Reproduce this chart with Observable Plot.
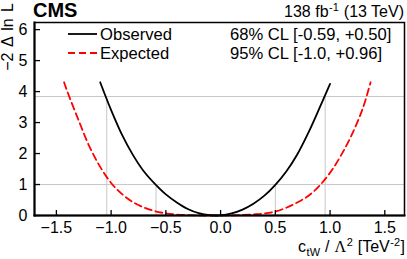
<!DOCTYPE html>
<html>
<head>
<meta charset="utf-8">
<script src="https://cdn.jsdelivr.net/npm/d3@7"></script>
<script src="https://cdn.jsdelivr.net/npm/@observablehq/plot@0.6"></script>
<style>
  html, body { margin: 0; padding: 0; background: #fff; }
  svg { display: block; }
</style>
</head>
<body>
<div id="chart"></div>
<script>
// Observed -2ΔlnL scan
const obsX = [-1.10, -1.0, -0.9, -0.8, -0.7, -0.6, -0.5, -0.4, -0.3, -0.2, -0.1, 0.0, 0.1, 0.2, 0.3, 0.4, 0.5, 0.6, 0.7, 0.8, 0.9, 1.0];
const obsY = [4.30, 3.40, 2.60, 1.95, 1.42, 1.02, 0.68, 0.42, 0.21, 0.075, 0.01, 0.005, 0.065, 0.19, 0.38, 0.64, 0.99, 1.42, 1.97, 2.66, 3.44, 4.25];
// Expected -2ΔlnL scan
const expX = [-1.43, -1.4, -1.3, -1.2, -1.1, -1.0, -0.9, -0.8, -0.7, -0.6, -0.5, -0.4, -0.3, -0.2, -0.1, 0.0, 0.1, 0.2, 0.3, 0.4, 0.5, 0.6, 0.7, 0.8, 0.9, 1.0, 1.1, 1.2, 1.3, 1.37];
const expY = [4.30, 4.00, 3.10, 2.24, 1.57, 1.05, 0.69, 0.43, 0.26, 0.14, 0.07, 0.03, 0.012, 0.003, 0.0, 0.0, 0.004, 0.015, 0.035, 0.065, 0.13, 0.25, 0.42, 0.63, 0.95, 1.38, 1.94, 2.62, 3.47, 4.30];
// CL levels and observed interval edges
const clLevels = [1, 3.84];
const clEdgesX = [-1.04, -0.59, 0.50, 0.955];
const clEdgesLevel = [3.84, 1, 1, 3.84];
// ticks
const xTicks = [-1.5, -1.0, -0.5, 0.0, 0.5, 1.0, 1.5];
const yTicks = [0, 1, 2, 3, 4, 5, 6];
// texts
const seriesNames = ["Observed", "Expected"];
const clTexts = ["68% CL [-0.59, +0.50]", "95% CL [-1.0, +0.96]"];

const observed = obsX.map((x, i) => ({x, y: obsY[i]}));
const expected = expX.map((x, i) => ({x, y: expY[i]}));
const edges = clEdgesX.map((x, i) => ({x, level: clEdgesLevel[i]}));

const W = 407, H = 259;
const mL = 34, mR = 3, mT = 22, mB = 44;
const innerW = W - mL - mR, innerH = H - mT - mB;
const FONT = "'Liberation Sans', Arial, Helvetica, sans-serif";
const SERIF = "'Liberation Serif', 'Times New Roman', serif";

const plot = Plot.plot({
  width: W,
  height: H,
  marginLeft: mL,
  marginRight: mR,
  marginTop: mT,
  marginBottom: mB,
  style: {fontFamily: FONT, fontSize: "16px", color: "#000", background: "#fff"},
  x: {domain: [-1.7, 1.68], label: null},
  y: {domain: [0, 6.23], label: null},
  marks: [
    Plot.ruleY(clLevels, {stroke: "#c8c8c8", strokeWidth: 1}),
    Plot.ruleX(edges, {x: "x", y1: 0, y2: "level", stroke: "#c8c8c8", strokeWidth: 1}),
    Plot.line(expected, {x: "x", y: "y", stroke: "#ff0000", strokeWidth: 1.8, strokeDasharray: "7,4", curve: "catmull-rom"}),
    Plot.line(observed, {x: "x", y: "y", stroke: "#000", strokeWidth: 1.8, curve: "catmull-rom"}),
    Plot.tickX(xTicks, {x: d => d, insetTop: innerH - 5, stroke: "#000", strokeWidth: 1.3}),
    Plot.tickY(yTicks, {y: d => d, insetRight: innerW - 6, stroke: "#000", strokeWidth: 1.3}),
    Plot.axisX(xTicks, {tickSize: 0, tickPadding: 6, tickFormat: d3.format(".1f"), fontSize: 16, label: null}),
    Plot.axisY(yTicks, {tickSize: 0, tickPadding: 7, tickFormat: d3.format("d"), fontSize: 16, label: null}),
    Plot.frame({stroke: "#000", strokeWidth: 1.5}),
    Plot.frame({anchor: "left", stroke: "#000", strokeWidth: 2}),
    Plot.frame({anchor: "bottom", stroke: "#000", strokeWidth: 2})
  ]
});

document.getElementById("chart").appendChild(plot);

const svg = d3.select(plot);
const g = svg.append("g").attr("font-family", FONT).attr("fill", "#000").attr("text-anchor", "start");

// place a sequence of text pieces, right-aligned at xRight
function composeRight(parts, xRight, yBase) {
  const nodes = parts.map(p => g.append("text")
    .attr("x", 0).attr("y", yBase + (p.shift || 0))
    .attr("font-size", p.size)
    .attr("font-family", p.family || FONT)
    .attr("text-anchor", "start")
    .text(p.text));
  const widths = nodes.map(n => n.node().getComputedTextLength());
  const gaps = parts.map(p => p.gap || 0);
  const total = widths.reduce((a, b) => a + b, 0) + gaps.reduce((a, b) => a + b, 0);
  let x = xRight - total;
  nodes.forEach((n, i) => { x += gaps[i]; n.attr("x", x); x += widths[i]; });
}

// header
g.append("text").attr("x", mL - 1).attr("y", 17).attr("font-size", 20).attr("font-weight", "bold").text("CMS");
composeRight([
  {text: "138 fb", size: 16},
  {text: "-1", size: 11, shift: -6, gap: 0.5},
  {text: "(13 TeV)", size: 16, gap: 5}
], W - 3, 17);

// legend
const legY = [34, 53];
g.append("line").attr("x1", 68).attr("x2", 97).attr("y1", legY[0]).attr("y2", legY[0]).attr("stroke", "#000").attr("stroke-width", 1.8);
g.append("line").attr("x1", 68).attr("x2", 97).attr("y1", legY[1]).attr("y2", legY[1]).attr("stroke", "#ff0000").attr("stroke-width", 1.8).attr("stroke-dasharray", "7,4");
seriesNames.forEach((s, i) => {
  g.append("text").attr("x", 100).attr("y", legY[i]).attr("dy", "0.35em").attr("font-size", 16.6).text(s);
});
clTexts.forEach((s, i) => {
  g.append("text").attr("x", 230).attr("y", legY[i]).attr("dy", "0.35em").attr("font-size", 16.6).text(s);
});

// y label
g.append("text").attr("transform", "translate(13,3) rotate(-90)").attr("text-anchor", "end")
  .attr("font-size", 16).attr("word-spacing", 2).text("\u22122 \u0394 ln L");

// x label
composeRight([
  {text: "c", size: 16},
  {text: "tW", size: 11, shift: 4, gap: 0.5},
  {text: "/", size: 16, gap: 5},
  {text: "\u039B", size: 16, family: SERIF, gap: 5},
  {text: "2", size: 11, shift: -6, gap: 0.5},
  {text: "[TeV", size: 16, gap: 5},
  {text: "-2", size: 11, shift: -6, gap: 0.5},
  {text: "]", size: 16, gap: 0.5}
], W - 2, 252);
</script>
</body>
</html>
